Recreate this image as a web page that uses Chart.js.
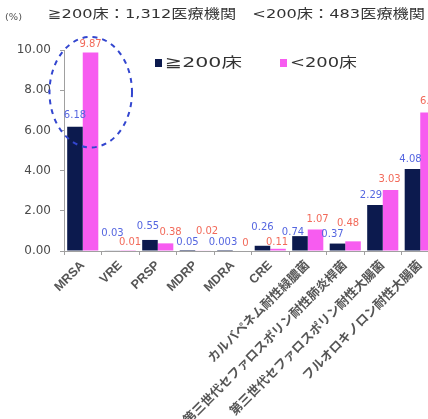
<!DOCTYPE html>
<html>
<head>
<meta charset="utf-8">
<script src="https://cdn.jsdelivr.net/npm/chart.js@4"></script>
<style>
  body { margin: 0; background: #fff; }
  #wrap { width: 428px; height: 419px; overflow: hidden; position: relative; }
  #box { width: 440px; height: 419px; }
</style>
</head>
<body>
<div id="wrap"><div id="box"><canvas id="chart"></canvas></div></div>
<script>
// ── Data ──
const categories = [
  'MRSA', 'VRE', 'PRSP', 'MDRP', 'MDRA', 'CRE',
  'カルバペネム耐性緑膿菌',
  '第三世代セファロスポリン耐性肺炎桿菌',
  '第三世代セファロスポリン耐性大腸菌',
  'フルオロキノロン耐性大腸菌',
]
const seriesNames = ['≧200床', '<200床']
const large = [6.18, 0.03, 0.55, 0.05, 0.003, 0.26, 0.74, 0.37, 2.29, 4.08]
const small = [9.87, 0.01, 0.38, 0.02, 0, 0.11, 1.07, 0.48, 3.03, 6.89]
const yTicks = [0, 2, 4, 6, 8, 10]
const titleText = '≧200床：1,312医療機関　<200床：483医療機関'

// ── Styling ──
const COLORS = {
  navy: '#0c1a4e',
  pink: '#f75cf0',
  navyLabel: '#5566e0',
  pinkLabel: '#f26a5a',
  ring: '#3346cf',
  axis: '#a0a0a0',
  text: '#4a4a4a',
}
const LATIN_CJK = "'DejaVu Sans', 'Noto Sans CJK JP'"

// per-label nudges [dx, dy] (px) relative to the bar top centre
const navyNudge = [[0, -11], [0, -17], [-2, -14], [0, -8], [-2, -9], [0, -18], [-7, -4], [-5, -9], [-4, -10], [-2, -10]]
const pinkNudge = [[0, -8], [2, -8], [5, -11], [4, -19], [5, -8], [-1, -6], [2, -10], [-5, -18], [-1, -11], [3, -11]]

function fitText(ctx, text, x, y, width, font, color) {
  ctx.save()
  ctx.font = font
  ctx.fillStyle = color
  ctx.textAlign = 'left'
  ctx.textBaseline = 'middle'
  const w = ctx.measureText(text).width
  ctx.translate(x, y)
  ctx.scale(width / w, 1)
  ctx.fillText(text, 0, 0)
  ctx.restore()
}

const decorPlugin = {
  id: 'decor',
  afterDatasetsDraw(chart) {
    const { ctx, scales } = chart
    const xs = scales.x, ys = scales.y

    // value labels
    ctx.save()
    ctx.font = `10px ${LATIN_CJK}`
    ctx.textAlign = 'center'
    ctx.textBaseline = 'middle'
    ;[[0, large, navyNudge, COLORS.navyLabel], [1, small, pinkNudge, COLORS.pinkLabel]].forEach(([di, vals, nudge, color]) => {
      ctx.fillStyle = color
      chart.getDatasetMeta(di).data.forEach((bar, i) => {
        ctx.fillText(String(vals[i]), bar.x + nudge[i][0], bar.y + nudge[i][1])
      })
    })
    ctx.restore()

    // dashed ring around MRSA
    const catW = xs.getPixelForValue(1) - xs.getPixelForValue(0)
    const cx = xs.getPixelForValue(0) + 8
    const cy = ys.getPixelForValue(7.9)
    const ry = ys.getPixelForValue(5.15) - cy
    ctx.save()
    ctx.strokeStyle = COLORS.ring
    ctx.lineWidth = 2
    ctx.setLineDash([5, 5])
    ctx.beginPath()
    ctx.ellipse(cx, cy, catW * 1.1, ry, 0, 0, Math.PI * 2)
    ctx.stroke()
    ctx.restore()

    // title, unit, legend
    fitText(ctx, titleText, 48, 15, 377, `13px ${LATIN_CJK}`, '#333')
    fitText(ctx, '(%)', 5, 18, 17, `8px ${LATIN_CJK}`, '#555')
    ctx.fillStyle = COLORS.navy
    ctx.fillRect(155, 59, 7, 8)
    fitText(ctx, seriesNames[0], 165, 63, 77, `14px ${LATIN_CJK}`, '#333')
    ctx.fillStyle = COLORS.pink
    ctx.fillRect(280, 59, 7, 8)
    fitText(ctx, seriesNames[1], 290, 63, 67, `14px ${LATIN_CJK}`, '#333')
  },
}

new Chart(document.getElementById('chart'), {
  type: 'bar',
  data: {
    labels: categories,
    datasets: [
      { label: seriesNames[0], data: large, backgroundColor: COLORS.navy, categoryPercentage: 0.83, barPercentage: 1 },
      { label: seriesNames[1], data: small, backgroundColor: COLORS.pink, categoryPercentage: 0.83, barPercentage: 1 },
    ],
  },
  options: {
    responsive: true,
    maintainAspectRatio: false,
    animation: false,
    layout: { padding: { top: 50, right: 1, left: 0, bottom: 0 } },
    plugins: { legend: { display: false }, title: { display: false }, tooltip: { enabled: false } },
    scales: {
      x: {
        afterFit: s => { s.height = 168 },
        border: { color: COLORS.axis, width: 1 },
        grid: { drawOnChartArea: false, color: COLORS.axis, tickLength: 4, offset: true },
        ticks: {
          autoSkip: false,
          minRotation: 45,
          maxRotation: 45,
          padding: 3,
          color: '#555',
          font: { family: "'Liberation Sans', 'Noto Sans CJK JP'", size: 12.5, weight: 'bold' },
        },
      },
      y: {
        min: 0,
        max: 10,
        afterFit: s => { s.width = 64 },
        afterBuildTicks: s => { s.ticks = yTicks.map(v => ({ value: v })) },
        border: { color: COLORS.axis, width: 1 },
        grid: { drawOnChartArea: false, color: COLORS.axis, tickLength: 4 },
        ticks: {
          padding: 9,
          color: COLORS.text,
          font: { family: LATIN_CJK, size: 12 },
          callback: v => v.toFixed(2),
        },
      },
    },
  },
  plugins: [decorPlugin],
})
</script>
</body>
</html>
